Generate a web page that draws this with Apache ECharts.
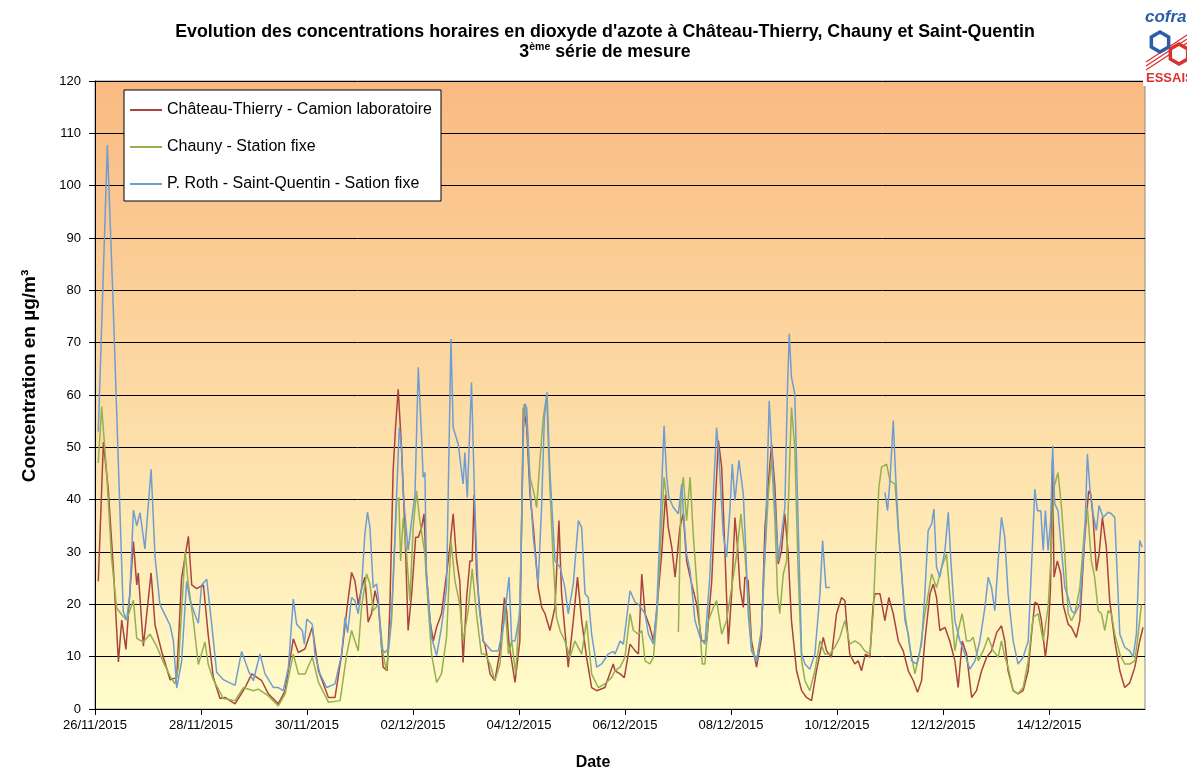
<!DOCTYPE html>
<html><head><meta charset="utf-8">
<script src="https://cdn.jsdelivr.net/npm/echarts@6/dist/echarts.min.js"></script>
<style>html,body{margin:0;padding:0;background:#fff;}#chart{width:1187px;height:773px;}</style>
</head><body><div id="chart"></div>
<script>
// Time is expressed in hours after 26/11/2015 00:00
const seriesNames = ['Château-Thierry - Camion laboratoire', 'Chauny - Station fixe', 'P. Roth - Saint-Quentin - Sation fixe'];
const xTickLabels = ['26/11/2015','28/11/2015','30/11/2015','02/12/2015','04/12/2015','06/12/2015','08/12/2015','10/12/2015','12/12/2015','14/12/2015'];
const yTicks = [0,10,20,30,40,50,60,70,80,90,100,110,120];
const xAxisTitle = 'Date';
const yAxisTitle = 'Concentration en µg/m³';

const chateauThierry = [
[1.5,24.4],[3.8,51],[6.0,42],[8.3,27],[10.6,9],[12.1,17],[14.0,11.4],[17.4,32],[18.9,23.7],[19.6,26],[21.9,12],[25.4,26],[27.2,16],[30.2,11],[34.0,5.6],[37.0,6],[39.2,25],[42.3,33],[43.8,23.7],[46.0,23],[49.1,23.7],[51.3,14],[53.6,6],[56.6,2],
[58.9,2.2],[63.4,1],[68,4.1],[71,6.7],[75.5,5.4],[78.5,2.9],[83,1],[86.1,3.5],[89.8,13.4],[92.1,10.8],[95.1,11.5],[98.4,15.6],[101.2,7.3],[105.7,2.2],[108.7,2.2],[111.7,10.5],[114,18.8],[116.2,26.1],
[117.7,24.5],[119.2,20],[120.7,23],[122.2,25.2],[123.7,16.6],[125.2,18.2],[126.8,22.6],[128.3,20],[130.5,8],[132.3,7.3],[133.5,18.8],[135,45.5],[136.1,53.8],[137.3,61.1],[138.8,50],[140.3,34.7],[141.8,15],[143.4,22],[145.2,32.8],[146.4,32.8],[147.9,34.7],[149,37.3],[150.1,25.8],[151.7,16.9],[153.2,13],[154.7,15.6],[156.9,18.2],[159.2,25.8],[160.7,30.9],[162.2,37.3],[163.7,28.7],[165.2,24.5],[166.7,8.9],[168.3,21.3],[169.8,28.3],[170.8,28.3],[171.7,41],[172.8,25.8],[174.3,18.8],[175.8,13],
[176.6,12.4],[178.9,6.7],[181.1,5.4],[183.4,11.1],[185.4,21.3],[186.4,18.8],[187.5,12.4],[188.7,9.2],[190.2,5.1],[192.4,13],[194,57.6],[195.5,53.8],[197,41],[198.5,34.7],[200.7,23.2],[202.3,19.4],[203.8,18.2],[206,15],[208.3,19.4],[210.1,36],[211.3,22],[214.3,8],[216.6,16.9],[218.5,25.2],[220.4,16.9],[222.6,9.9],[224.9,4.1],[227.2,3.5],[230.9,4.1],[234.7,8.6],
[235.5,7.3],[237.8,6.7],[239.7,6],[242.3,12.4],[244.6,11.1],[246.1,10.5],[247.6,25.8],[249.1,18.2],[251.3,15.6],[252.9,13],[254.4,18.8],[256.6,29.6],[258.4,41],[259.6,34.7],[261.2,30.9],[262.7,25.2],[264.9,34.7],[266.4,37.3],[267.9,28.3],[270.2,23.9],[272.5,20],[274.7,13],[277,13],[279.3,24.5],[280.8,38.5],[282.3,51.3],[283.8,46.2],[285.3,29.6],[286.8,12.4],[288.3,22],[289.8,36.6],[291,30.9],[292.1,23.2],[293.6,19.4],
[294.3,25.2],[295.8,24.5],[297.3,13],[299.6,8],[301.8,13.7],[303.4,34.7],[304.9,43],[306.4,50.6],[307.9,42.4],[309.4,27.7],[310.9,30.3],[312.4,37.3],[313.9,29.6],[315.4,16.9],[317.7,7.3],[320,3.5],[322.2,2.2],[324.5,1.6],[326.7,7.3],[329.8,13.7],[331.3,11.1],[333.5,9.9],[335.8,18.2],[338.1,21.3],[339.6,20.7],[340.3,16.9],[341.8,10.5],[344.1,8.6],[345.6,9.2],[347.1,7.3],[348.9,10.5],[350.9,9.9],[352.4,20],
[353.2,22],[355.5,22],[357.7,16.9],[359.5,21.3],[361.5,18.2],[363.8,13],[366,11.1],[368.3,7.3],[370.6,5.4],[372.5,3.2],[374.3,5.4],[375.8,13],[378.1,22],[379.6,23.9],[381.1,21.3],[382.6,15],[384.9,15.6],[387.1,13],[389.4,9.2],[390.9,4.1],[392.7,13],[394.7,10.5],[397,2.2],[399.2,3.5],[401.5,7.3],[403.8,9.9],[406,11.1],[408.3,14.6],[410.5,15.9],
[412,13],[413.5,7.3],[415.8,3.5],[418,2.9],[420.3,3.5],[422.6,7.3],[424.1,14.3],[425.6,20.4],[427.1,20],[428.6,16.9],[430.4,9.9],[431.6,14.3],[432.7,23.2],[433.6,47.5],[434.3,25.2],[435.8,28.3],[437.4,25.8],[438.4,20],[440.7,16.2],[442.2,15.6],[444.4,13.7],[446,16.9],[448.2,32.8],[450,41.7],[450.9,41],[452,36.6],[453.5,26.4],[454.7,29.6],[456.2,36.6],[458,30.9],[459.5,20.7],[461.8,13],[464.1,7.3],[466.3,4.1],[468.6,5],[470.9,8],[473.1,13],[474.6,15.6]
];

const chauny = [
[1.5,47],[3.0,57.8],[5.3,45],[7.5,28.8],[9.8,19.3],[12.1,18],[14.3,17],[17.4,20.8],[18.9,13.5],[21.9,12.8],[24.9,14.3],[27.9,12],[30.9,9],[34.0,6.3],[36.2,4.8],[37.7,7.7],[40.8,30],[42.3,23.7],[44.5,17],[46.8,8.5],[49.8,12.8],[51.3,8.5],[53.6,5.6],[58.1,2],
[63.4,1.6],[67.2,4.1],[71.7,3.5],[74,3.8],[78.5,2.5],[83,0.6],[86.1,2.9],[89.8,10.5],[92.1,6.7],[95.1,6.7],[98.4,9.9],[101.2,5.1],[105.7,1.3],[111,1.6],[114,10.5],[116.2,15],
[117.7,13],[119.2,11.1],[120.7,19.4],[123,25.8],[124.5,23.9],[126,18.8],[128.3,20],[130.5,10.5],[132,7.3],[134.3,16.9],[136.6,39.8],[137.6,40.4],[138.4,28.3],[139.6,36.6],[141.1,29.6],[142.6,20.7],[144.1,34.7],[145.6,41.7],[147.1,36],[149.4,29.6],[150.1,24.5],[152.4,10.5],[154.7,5.1],[156.9,6.7],[159.2,13.7],[161.2,32.2],[163,24.5],[165.2,20],[166.7,13],[169,18.8],[170.8,26.8],[172.8,18],[175,10.5],
[176.6,10.5],[178.9,8.6],[181.1,5.4],[183.4,8.6],[185.7,20],[187.2,10.5],[188.7,13],[190.5,6.7],[192.4,20],[194.3,58.3],[195.5,55.7],[197,44.3],[198.9,41],[200,38.5],[201.5,47.5],[203,55.7],[204.5,59.9],[206,42.4],[207.5,28.3],[209,17.5],[210.6,15],[212.8,13],[215.1,9.9],[217.3,13],[220.4,10.5],[222.6,16.9],[224.9,6.7],[227.9,4.1],[230.9,4.8],[233.9,6],
[235.5,7.3],[237.8,8],[240,9.9],[242.3,18.2],[243.8,15],[246.1,14.3],[247.6,15],[249.1,9.2],[251.3,8.6],[252.9,9.9],[254.4,17.5],[255.9,29.6],[257.7,44.3],[258.9,40.4],[260,'-'],[264.2,14.7],[265.4,41],[266.4,44.3],[267.9,36],[269.5,44.3],[271,32.8],[273.2,20],[275,8.6],[276.2,8.6],[277.8,16.9],[280,19.4],[281.5,20.7],[283.8,14.3],[286,16.9],[288.3,23.2],[290.6,29.6],[292.5,37.3],
[294.3,29.6],[295.8,21.3],[297.3,11.8],[299.6,9.2],[301.8,15],[303.4,29.6],[304.9,41],[306.4,48.1],[307.9,36],[309.1,22],[310.1,18.2],[311.7,25.8],[313.2,28.3],[314.7,48.7],[315.4,57.6],[316.9,50],[318.4,26.4],[320,9.2],[321.5,5.4],[323.7,3.5],[326,7.3],[328.3,13],[330.5,10.5],[332.8,10.5],[335,11.8],[337.3,13.7],[339.6,16.9],[341.8,12.4],[344.1,13],[346.4,12.4],[348.6,11.1],[350.9,10.5],[352.4,18.2],
[353.5,29.6],[355,42.4],[356.2,46.2],[358.5,46.8],[360,43.6],[362.3,43],[363.8,34.1],[365.3,25.8],[366.8,18.2],[369,11.8],[371.3,6.7],[373.6,11.1],[375.8,18.2],[378.9,25.8],[381.1,23.2],[383.4,27.1],[385.6,29.6],[387.1,22],[389.4,11.1],[390.9,15],[392.7,18.2],[394.7,13],[396.2,13],[397.7,13.7],[400,9.2],[402.2,11.1],[404.5,13.7],[406.8,11.1],[409,9.9],[410.5,13],
[412,10],[413.5,8],[415.8,3.5],[418,2.9],[420.3,4.1],[422.6,9.2],[424.8,17.5],[427.1,18.2],[429.4,13],[431.6,19.4],[433.1,30.3],[434.3,42.4],[436.1,45.2],[437.7,38.5],[439.2,29.6],[440.7,18.2],[442.2,16.9],[443.7,18.2],[446,23.2],[448.2,34.7],[449.4,38.5],[451.2,28.3],[452.7,25.2],[454.3,18.8],[455.8,18.2],[457.3,15],[458.8,18.8],[460.3,18.2],[461.8,14.3],[464.1,10.5],[466.3,8.6],[468.6,8.6],[470.9,9.2],[472.4,14.3],[473.9,20]
];

const stQuentin = [
[1.5,53],[5.6,107.7],[8.0,80],[12.8,18.6],[14.3,17],[15.8,22],[17.4,38],[18.9,35],[20.4,37.5],[22.6,30.6],[25.4,45.8],[27.2,29],[29.4,20],[31.7,18],[34.0,16],[35.5,13],[37.0,4],[39.2,9],[41.5,24.4],[43.0,20.8],[45.3,18],[46.8,16.4],[48.3,23.7],[50.6,24.8],[52.8,16.4],[55.1,7],[58.1,5.6],
[63.4,4.5],[66.4,11],[69.5,7.3],[71.7,5.4],[74.7,10.5],[77,6.7],[80.8,4.1],[83,4.1],[85.3,3.5],[87.6,8],[89.8,21],[91.3,16.2],[93.9,15],[94.8,12.4],[95.9,17.2],[98.4,16.2],[99.6,10.5],[101.9,6.7],[104.9,4.1],[108.7,4.8],[111.7,10.5],[113.2,17.5],[114.4,14.6],[116.2,21.3],
[117.7,20.7],[119.2,18.2],[120.7,23],[122.2,33.4],[123.4,37.6],[124.5,34.7],[126,23.2],[127.5,23.9],[128.3,21.3],[129.8,11.5],[131.3,10.8],[132.8,11.5],[134.3,18.2],[135.5,29.6],[136.6,41],[137.8,53.8],[138.8,50],[139.6,41],[140.3,41],[141.8,30.3],[143.4,36],[144.9,41],[146.4,65.3],[147.9,51.9],[148.6,44.3],[149.4,45.2],[150.1,25.8],[152.4,13.7],[154.7,10.2],[156.9,15.6],[159.2,23.2],[161.2,70.7],[162.2,53.8],[164.5,50.6],[166.7,43],[167.5,49],[168.6,40.4],[170.5,62.4],[172,38.5],[173.8,20],[175.8,13],
[176.6,13],[179.6,11.1],[182.6,11.1],[184.9,15.6],[187.5,25.2],[188.7,13],[190.2,13],[192.4,18.2],[194,53.2],[194.7,58.3],[195.5,57.6],[197,42.4],[198.5,32.8],[200.7,23.9],[202.3,39.2],[203.5,55.7],[204.7,60.5],[206,45.5],[208.3,28.3],[210.6,27.1],[212.8,23.2],[214.3,18.2],[216.6,23.9],[218.9,36],[220.4,34.7],[221.9,22],[223.4,21.3],[224.9,14.3],[227.2,8],[229.4,8.6],[232.4,10.5],[234.7,11],
[235.5,10.5],[237.8,13],[239.3,12.4],[242.3,22.6],[244.6,20.4],[246.1,20],[249.1,18.2],[250.6,14.3],[252.9,12.4],[254.4,19.4],[255.9,34.7],[257.7,54.1],[258.9,44.3],[259.9,40.4],[261.9,38.5],[264.2,37.3],[265.7,43],[266.4,37.9],[267.9,29.6],[269.5,26.4],[271.7,16.9],[274,13.7],[276.2,12.4],[278.5,25.8],[280.3,43.6],[281.5,53.8],[282.6,48.1],[284.5,33.4],[286,29],[287.6,38.5],[288.6,46.8],[289.8,39.8],[291.6,47.5],[293.6,41],
[294.8,29.6],[295.8,18.2],[297.3,11.1],[299.6,9.2],[301.8,15],[303.7,32.8],[305.3,58.9],[306.4,50],[307.9,39.2],[309.4,28.3],[310.9,33.4],[312.4,38.5],[313.6,61.5],[314.4,71.7],[315.4,63.4],[316.9,60.2],[318.4,36],[320,10.5],[321.5,8.6],[323.7,7.6],[326,10.5],[328.3,22],[329.5,32.2],[331,23.2],[332.8,23.2],[333.5,'-'],
[357.7,41.4],[358.9,37.9],[360,43.6],[361.5,55.1],[362.6,44.3],[363.8,34.7],[365.3,25.8],[366.8,16.9],[368.3,14.3],[369.8,9.2],[372.1,8.6],[374.3,12.4],[375.8,22],[377.3,34.1],[378.9,35.4],[379.9,38.2],[381.1,27.1],[382.6,25.2],[384.9,30.3],[386.4,37.6],[387.6,28.3],[389.4,16.9],[391.7,13],[393.9,10.5],[396.2,7.6],[398.5,9.2],[400.7,13],[403,19.4],[404.5,25.2],[406,23.2],[407.5,18.8],[409,28.3],[410.5,36.6],
[412,32.8],[413.5,22],[415.8,13],[418,8.6],[420.3,9.9],[422.6,13],[424.1,27.1],[425.6,42],[426.8,37.9],[428.3,37.9],[429.4,30.3],[430.4,37.9],[431.6,30.3],[432.8,36],[433.7,50.3],[434.6,39.2],[436.1,37.9],[437.7,30.3],[439.2,23.2],[440.7,21.3],[442.2,18.8],[443.7,18.2],[446,20],[448.2,32.8],[449.4,48.7],[450.5,42.4],[452,37.3],[453.5,34.1],[454.7,38.9],[456.5,36.6],[458.8,37.6],[460.3,37.3],[461.8,36.6],[464.1,14.3],[466.3,11.8],[468.6,11.1],[470.1,9.9],[471.6,14.3],[473.1,32.2],[474.2,30.9]
];

const seriesColors = ['#A9443E', '#94B050', '#6F9DD2'];
const FONT = 'Liberation Sans, Arial, sans-serif';

function hexagon(cx, cy, r) {
  const pts = [];
  for (let i = 0; i < 6; i++) {
    const a = Math.PI / 6 + i * Math.PI / 3;
    pts.push([cx + r * Math.cos(a), cy + r * Math.sin(a)]);
  }
  return pts;
}

const chart = echarts.init(document.getElementById('chart'), null, {renderer: 'canvas'});
const allData = [chateauThierry, chauny, stQuentin];
chart.setOption({
  animation: false,
  backgroundColor: '#ffffff',
  title: {
    text: "Evolution des concentrations horaires en dioxyde d'azote à Château-Thierry, Chauny et Saint-Quentin\n{n|3}{s|ème}{n| série de mesure}",
    left: 600, top: 17, textAlign: 'center',
    textStyle: {
      fontFamily: FONT, fontSize: 17.8, fontWeight: 'bold', color: '#000', lineHeight: 20,
      rich: {
        n: {fontFamily: FONT, fontSize: 17.8, fontWeight: 'bold', color: '#000', lineHeight: 20},
        s: {fontFamily: FONT, fontSize: 10.5, fontWeight: 'bold', color: '#000', padding: [0, 0, 9, 0]}
      }
    }
  },
  legend: {
    orient: 'vertical', left: 124, top: 90,
    padding: [12, 9, 9, 6], itemGap: 21, itemWidth: 32, itemHeight: 2, icon: 'rect',
    backgroundColor: '#ffffff', borderColor: '#000', borderWidth: 1,
    textStyle: {fontFamily: FONT, fontSize: 16, color: '#000'},
    data: seriesNames
  },
  grid: {
    left: 95, top: 81, right: 42, bottom: 64,
    show: true, borderColor: '#8a8a8a', borderWidth: 1,
    backgroundColor: new echarts.graphic.LinearGradient(0, 0, 0, 1, [
      {offset: 0, color: '#F9BA82'},
      {offset: 0.5, color: '#FDDAA4'},
      {offset: 1, color: '#FFFDCB'}
    ])
  },
  xAxis: {
    type: 'value', min: 0, max: 475.5, interval: 48,
    axisLine: {show: true, lineStyle: {color: '#000', width: 1}},
    axisTick: {show: true, length: 6, lineStyle: {color: '#000'}},
    splitLine: {show: false},
    axisLabel: {
      fontFamily: FONT, fontSize: 13, color: '#000', margin: 10, showMaxLabel: false,
      formatter: v => (v % 48 === 0 && xTickLabels[v / 48]) ? xTickLabels[v / 48] : ''
    }
  },
  yAxis: {
    type: 'value', min: yTicks[0], max: yTicks[yTicks.length - 1], interval: 10,
    axisLine: {show: true, lineStyle: {color: '#000', width: 1}},
    axisTick: {show: true, length: 6, lineStyle: {color: '#000'}},
    splitLine: {show: true, lineStyle: {color: '#000', width: 1}},
    axisLabel: {fontFamily: FONT, fontSize: 13, color: '#000', margin: 14}
  },
  series: seriesNames.map((name, i) => ({
    name, type: 'line', data: allData[i], showSymbol: false, symbol: 'none',
    color: seriesColors[i], connectNulls: false,
    lineStyle: {width: 1.5, color: seriesColors[i]}
  })),
  graphic: [
    {type: 'text', x: 593, y: 763, style: {text: xAxisTitle, font: 'bold 16px Liberation Sans', fill: '#000', align: 'center', verticalAlign: 'middle'}},
    {type: 'text', x: 30, y: 376, rotation: Math.PI / 2, style: {text: yAxisTitle, font: 'bold 19px Liberation Sans', fill: '#000', align: 'center', verticalAlign: 'middle'}},
    {type: 'rect', shape: {x: 1143, y: 6, width: 44, height: 80}, style: {fill: '#fff'}, z: 10},
    {type: 'text', x: 1145, y: 9, z: 11, style: {text: 'cofrac', font: 'italic bold 17px Liberation Sans', fill: '#2A5CAA'}},
    {type: 'line', shape: {x1: 1146, y1: 62, x2: 1187, y2: 35}, style: {stroke: '#D9312B', lineWidth: 1.2}, z: 11},
    {type: 'line', shape: {x1: 1146, y1: 66, x2: 1187, y2: 39}, style: {stroke: '#D9312B', lineWidth: 1.2}, z: 11},
    {type: 'line', shape: {x1: 1146, y1: 70, x2: 1187, y2: 43}, style: {stroke: '#D9312B', lineWidth: 1.2}, z: 11},
    {type: 'polygon', shape: {points: hexagon(1160, 42, 10)}, style: {fill: '#fff', stroke: '#2A5CAA', lineWidth: 3.5}, z: 12},
    {type: 'polygon', shape: {points: hexagon(1179, 54, 10)}, style: {fill: '#fff', stroke: '#D9312B', lineWidth: 3.5}, z: 12},
    {type: 'text', x: 1146, y: 72, z: 11, style: {text: 'ESSAIS', font: 'bold 13px Liberation Sans', fill: '#D9312B'}}
  ]
});
</script></body></html>
